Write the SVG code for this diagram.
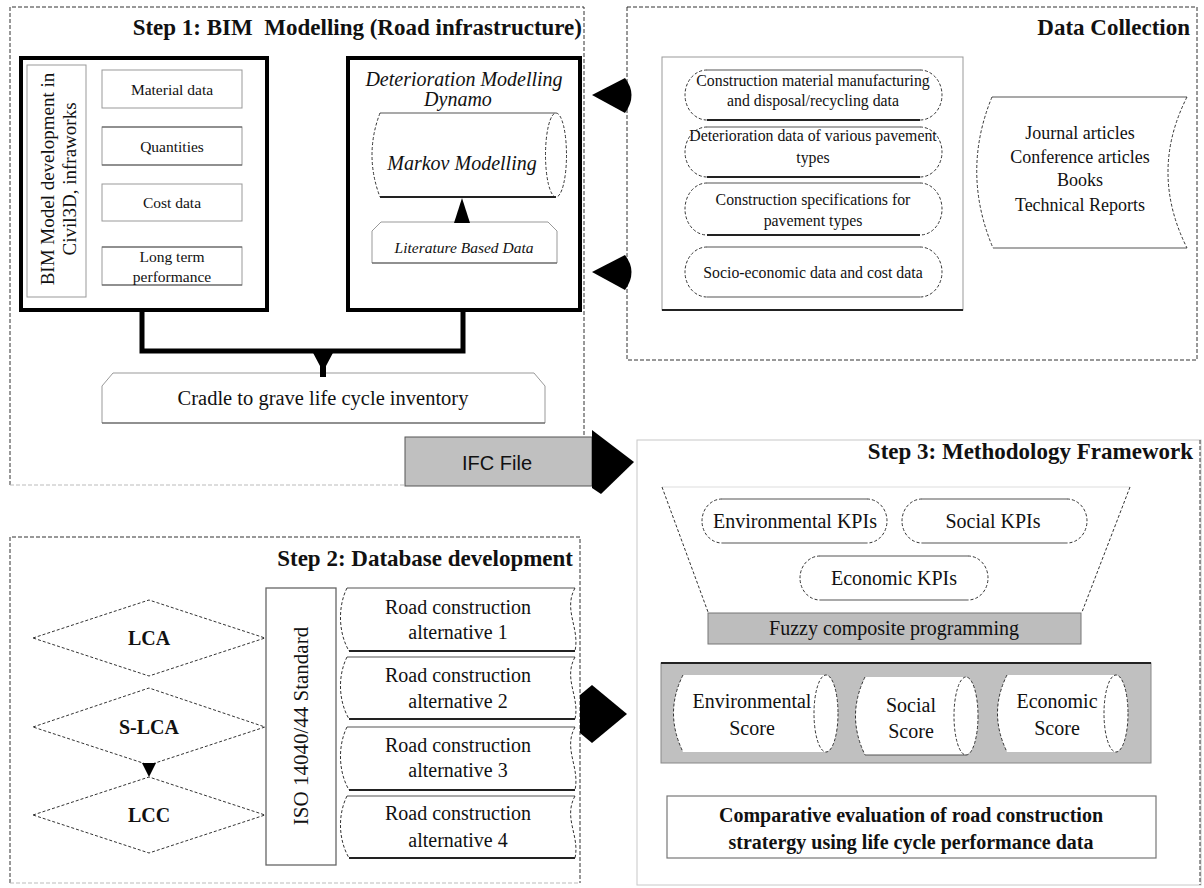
<svg xmlns="http://www.w3.org/2000/svg" width="1204" height="888" viewBox="0 0 1204 888">
<defs>
<style>
.t{font-family:"Liberation Serif","Times New Roman",serif;fill:#111;text-anchor:middle}
.title{font-size:23px;font-weight:bold;text-anchor:end}
.b{font-weight:bold}
.i{font-style:italic}
.frame{fill:none;stroke:#333;stroke-width:1;stroke-dasharray:4 2}
.frame-light{fill:none;stroke:#bbb;stroke-width:1;stroke-dasharray:4 2}
.faint{fill:none;stroke:#c8c8c8;stroke-width:1}
.thick{fill:#fff;stroke:#000;stroke-width:4}
.box{fill:#fff;stroke:#999;stroke-width:1}
.edge{fill:none;stroke:#555;stroke-width:1.2}
.edge-dark{fill:none;stroke:#222;stroke-width:1.8}
.dash{fill:none;stroke:#333;stroke-width:1;stroke-dasharray:3 2}
.wfill{fill:#fff;stroke:none}
.head{fill:#000;stroke:none}
.sans{font-family:"Liberation Sans",Arial,sans-serif}
</style>
</defs>
<rect width="1204" height="888" fill="#fff"/>

<!-- Step 1 frame: dark dashed sides, light dashed bottom -->
<g id="step1">
  <path class="frame" d="M10,485 V7 H584 V485"/>
  <path class="frame-light" d="M10,485 H584"/>
  <text class="t title" x="582" y="35" xml:space="preserve">Step 1: BIM  Modelling (Road infrastructure)</text>
</g>

<g id="bim-model">
  <rect class="thick" x="21" y="58" width="246" height="252"/>
  <rect class="box" x="27" y="65" width="59" height="232"/>
  <text class="t" font-size="19" transform="translate(54,179) rotate(-90)">BIM Model development in</text>
  <text class="t" font-size="19" transform="translate(76,179) rotate(-90)">Civil3D, infraworks</text>
</g>
<g id="material-data">
  <rect class="box" x="102" y="70" width="140" height="38"/>
  <text class="t" font-size="15.5" x="172" y="95">Material data</text>
</g>
<g id="quantities">
  <rect class="box" x="102" y="127" width="140" height="38"/>
  <path class="edge" d="M102,127 H242 M102,165 H242"/>
  <text class="t" font-size="15.5" x="172" y="152">Quantities</text>
</g>
<g id="cost-data">
  <rect class="box" x="102" y="184" width="140" height="37"/>
  <text class="t" font-size="15.5" x="172" y="208">Cost data</text>
</g>
<g id="long-term">
  <rect class="box" x="102" y="247" width="140" height="38"/>
  <path class="edge" d="M102,247 H242 M102,285 H242"/>
  <text class="t" font-size="15.5" x="172" y="262">Long term</text>
  <text class="t" font-size="15.5" x="172" y="282">performance</text>
</g>

<g id="deterioration-model">
  <rect class="thick" x="348" y="58" width="232" height="252"/>
  <text class="t i" font-size="20" x="464" y="86">Deterioration Modelling</text>
  <text class="t i" font-size="20" x="458" y="106">Dynamo</text>
</g>
<g id="markov">
  <path class="wfill" d="M380,113 H556 A10.5,42 0 0 1 556,197 H380 Q364,155 380,113 Z"/>
  <path class="edge" d="M380,113 H556"/>
  <path class="edge-dark" d="M380,197 H556"/>
  <path class="dash" d="M380,113 Q364,155 380,197"/>
  <ellipse class="dash" cx="556" cy="155" rx="10.5" ry="42"/>
  <text class="t i" font-size="20" x="462" y="170">Markov Modelling</text>
</g>
<g id="literature">
  <path class="box" d="M372,263 V231 L381,222 H548 L557,231 V263 Z"/>
  <path class="edge" d="M372,263 H557"/>
  <text class="t i" font-size="15.5" x="464" y="253">Literature Based Data</text>
</g>
<g id="inventory">
  <path class="box" d="M102,423 V386 L113,373 H534 L545,386 V423 Z"/>
  <path class="edge" d="M102,423 H545"/>
  <text class="t" font-size="20.5" x="323" y="405">Cradle to grave life cycle inventory</text>
</g>
<g id="ifc-file">
  <rect x="405" y="437" width="187" height="49" fill="#c0c0c0" stroke="#555" stroke-width="1"/>
  <text class="t sans" font-size="20" x="497" y="470">IFC File</text>
</g>

<!-- Data collection -->
<g id="data-collection">
  <rect class="frame" x="627" y="7" width="570" height="353"/>
  <text class="t title" x="1190" y="35">Data Collection</text>
  <rect class="box" x="662" y="57" width="301" height="253"/>
  <path class="edge-dark" d="M662,310 H963"/>
</g>
<g id="material-manufacturing-data">
  <path class="wfill" d="M707,70 H920 A22,25 0 0 1 920,120 H707 A22,25 0 0 1 707,70 Z"/>
  <path class="edge" d="M707,70 H920"/><path class="edge-dark" d="M707,120 H920"/>
  <path class="dash" d="M707,70 A22,25 0 0 0 707,120 M920,70 A22,25 0 0 1 920,120"/>
  <text class="t" font-size="15.8" x="813" y="86">Construction material manufacturing</text>
  <text class="t" font-size="15.8" x="813" y="106">and disposal/recycling data</text>
</g>
<g id="deterioration-data">
  <path class="wfill" d="M707,127 H920 A22,25 0 0 1 920,177 H707 A22,25 0 0 1 707,127 Z"/>
  <path class="edge" d="M707,127 H920"/><path class="edge-dark" d="M707,177 H920"/>
  <path class="dash" d="M707,127 A22,25 0 0 0 707,177 M920,127 A22,25 0 0 1 920,177"/>
  <text class="t" font-size="15.8" x="813" y="141">Deterioration data of various pavement</text>
  <text class="t" font-size="15.8" x="813" y="163">types</text>
</g>
<g id="specifications">
  <path class="wfill" d="M707,183 H920 A22,26 0 0 1 920,235 H707 A22,26 0 0 1 707,183 Z"/>
  <path class="edge" d="M707,183 H920"/><path class="edge-dark" d="M707,235 H920"/>
  <path class="dash" d="M707,183 A22,26 0 0 0 707,235 M920,183 A22,26 0 0 1 920,235"/>
  <text class="t" font-size="15.8" x="813" y="205">Construction specifications for</text>
  <text class="t" font-size="15.8" x="813" y="226">pavement types</text>
</g>
<g id="socio-economic">
  <path class="wfill" d="M707,247 H920 A22,25 0 0 1 920,297 H707 A22,25 0 0 1 707,247 Z"/>
  <path class="edge" d="M707,247 H920"/><path class="edge" d="M707,297 H920"/>
  <path class="dash" d="M707,247 A22,25 0 0 0 707,297 M920,247 A22,25 0 0 1 920,297"/>
  <text class="t" font-size="15.8" x="813" y="278">Socio-economic data and cost data</text>
</g>
<g id="sources">
  <path class="wfill" d="M992,97 H1187 Q1149,172 1187,248 H993 Q961,172 992,97 Z"/>
  <path class="edge" d="M992,97 H1187 M993,248 H1187"/>
  <path class="dash" d="M992,97 Q961,172 993,248 M1187,97 Q1149,172 1187,248"/>
  <text class="t" font-size="18" x="1080" y="139">Journal articles</text>
  <text class="t" font-size="18" x="1080" y="163">Conference articles</text>
  <text class="t" font-size="18" x="1080" y="186">Books</text>
  <text class="t" font-size="18" x="1080" y="211">Technical Reports</text>
</g>

<!-- Step 2 -->
<g id="step2">
  <path class="frame" d="M10,883 V537 H580 V883"/>
  <path class="frame-light" d="M10,883 H580"/>
  <text class="t title" x="573" y="566">Step 2: Database development</text>
</g>
<g id="lca">
  <path class="dash" fill="#fff" d="M33,638 L149,600 L265,638 L149,676 Z"/>
  <text class="t b" font-size="20" x="149" y="645">LCA</text>
</g>
<g id="s-lca">
  <path class="dash" fill="#fff" d="M33,727 L149,688 L265,727 L149,765 Z"/>
  <text class="t b" font-size="20" x="149" y="734">S-LCA</text>
</g>
<g id="lcc">
  <path class="dash" fill="#fff" d="M33,815 L149,777 L265,815 L149,853 Z"/>
  <text class="t b" font-size="20" x="149" y="822">LCC</text>
</g>
<g id="iso-standard">
  <rect x="266" y="588" width="70" height="277" fill="#fff" stroke="#666" stroke-width="1.3"/>
  <text class="t" font-size="21" transform="translate(308,726) rotate(-90)">ISO 14040/44 Standard</text>
</g>
<g id="alternative-1">
  <path class="wfill" d="M347,588 H575 C563,610 580,628 575,651 H349 C338,632 338,606 347,588 Z"/>
  <path class="edge" d="M347,588 H575"/><path class="edge-dark" d="M349,651 H575"/>
  <path class="dash" d="M347,588 C338,606 338,632 349,651 M575,588 C563,610 580,628 575,651"/>
  <text class="t" font-size="20" x="458" y="614">Road construction</text>
  <text class="t" font-size="20" x="458" y="639">alternative 1</text>
</g>
<g id="alternative-2">
  <path class="wfill" d="M347,657 H575 C563,679 580,697 575,719 H349 C338,700 338,675 347,657 Z"/>
  <path class="edge" d="M347,657 H575"/><path class="edge-dark" d="M349,719 H575"/>
  <path class="dash" d="M347,657 C338,675 338,700 349,719 M575,657 C563,679 580,697 575,719"/>
  <text class="t" font-size="20" x="458" y="682">Road construction</text>
  <text class="t" font-size="20" x="458" y="708">alternative 2</text>
</g>
<g id="alternative-3">
  <path class="wfill" d="M347,727 H575 C563,749 580,767 575,790 H349 C338,771 338,745 347,727 Z"/>
  <path class="edge" d="M347,727 H575"/><path class="edge-dark" d="M349,790 H575"/>
  <path class="dash" d="M347,727 C338,745 338,771 349,790 M575,727 C563,749 580,767 575,790"/>
  <text class="t" font-size="20" x="458" y="752">Road construction</text>
  <text class="t" font-size="20" x="458" y="777">alternative 3</text>
</g>
<g id="alternative-4">
  <path class="wfill" d="M347,796 H575 C563,818 580,836 575,858 H349 C338,839 338,814 347,796 Z"/>
  <path class="edge" d="M347,796 H575"/><path class="edge-dark" d="M349,858 H575"/>
  <path class="dash" d="M347,796 C338,814 338,839 349,858 M575,796 C563,818 580,836 575,858"/>
  <text class="t" font-size="20" x="458" y="820">Road construction</text>
  <text class="t" font-size="20" x="458" y="847">alternative 4</text>
</g>

<!-- Step 3 -->
<g id="step3">
  <rect class="faint" x="637" y="440" width="564" height="445"/>
  <path class="frame" d="M1200,440 V885"/>
  <text class="t title" x="1193" y="459">Step 3: Methodology Framework</text>
</g>
<g id="kpi-funnel">
  <path d="M662,487 H1130" stroke="#ddd" stroke-width="1" fill="none"/>
  <path class="dash" d="M662,487 L708,612 M1130,487 L1082,612"/>
</g>
<g id="environmental-kpis">
  <path class="wfill" d="M722,499 H867 A20,22 0 0 1 867,543 H722 A20,22 0 0 1 722,499 Z"/>
  <path class="edge" d="M722,499 H867 M722,543 H867"/>
  <path class="dash" d="M722,499 A20,22 0 0 0 722,543 M867,499 A20,22 0 0 1 867,543"/>
  <text class="t" font-size="20" x="795" y="528">Environmental KPIs</text>
</g>
<g id="social-kpis">
  <path class="wfill" d="M922,499 H1067 A20,22 0 0 1 1067,543 H922 A20,22 0 0 1 922,499 Z"/>
  <path class="edge" d="M922,499 H1067 M922,543 H1067"/>
  <path class="dash" d="M922,499 A20,22 0 0 0 922,543 M1067,499 A20,22 0 0 1 1067,543"/>
  <text class="t" font-size="20" x="993" y="528">Social KPIs</text>
</g>
<g id="economic-kpis">
  <path class="wfill" d="M820,556 H968 A20,22 0 0 1 968,600 H820 A20,22 0 0 1 820,556 Z"/>
  <path class="edge" d="M820,556 H968 M820,600 H968"/>
  <path class="dash" d="M820,556 A20,22 0 0 0 820,600 M968,556 A20,22 0 0 1 968,600"/>
  <text class="t" font-size="20" x="894" y="585">Economic KPIs</text>
</g>
<g id="fuzzy-programming">
  <rect x="708" y="613" width="373" height="31" fill="#bdbdbd" stroke="#777" stroke-width="1"/>
  <text class="t" font-size="20" x="894" y="635">Fuzzy composite programming</text>
</g>
<g id="scores">
  <rect x="661" y="663" width="490" height="100" fill="#c0c0c0" stroke="#888" stroke-width="1"/>
  <path d="M661,663 H1151" stroke="#222" stroke-width="2" fill="none"/>
</g>
<g id="environmental-score">
  <path class="wfill" d="M683,675 H826 A12,38.5 0 0 1 826,752 H683 Q664,713 683,675 Z"/>
  <path class="dash" d="M683,675 Q664,713 683,752"/>
  <ellipse class="dash" cx="826" cy="713.5" rx="12" ry="38.5"/>
  <text class="t" font-size="20" x="752" y="708">Environmental</text>
  <text class="t" font-size="20" x="752" y="735">Score</text>
</g>
<g id="social-score">
  <path class="wfill" d="M865,677 H966 A12,39 0 0 1 966,755 H865 Q846,716 865,677 Z"/>
  <path class="edge" d="M865,755 H966"/>
  <path class="dash" d="M865,677 Q846,716 865,755"/>
  <ellipse class="dash" cx="966" cy="716" rx="12" ry="39"/>
  <text class="t" font-size="20" x="911" y="712">Social</text>
  <text class="t" font-size="20" x="911" y="738">Score</text>
</g>
<g id="economic-score">
  <path class="wfill" d="M1007,675 H1116 A12,38.5 0 0 1 1116,752 H1007 Q988,713 1007,675 Z"/>
  <path class="dash" d="M1007,675 Q988,713 1007,752"/>
  <ellipse class="dash" cx="1116" cy="713.5" rx="12" ry="38.5"/>
  <text class="t" font-size="20" x="1057" y="708">Economic</text>
  <text class="t" font-size="20" x="1057" y="735">Score</text>
</g>
<g id="comparative-evaluation">
  <rect x="667" y="796" width="489" height="62" fill="#fff" stroke="#777" stroke-width="1.2"/>
  <text class="t b" font-size="20" x="911" y="822">Comparative evaluation of road construction</text>
  <text class="t b" font-size="20" x="911" y="849">stratergy using life cycle performance data</text>
</g>

<!-- connectors -->
<g id="connectors">
  <path d="M142,310 V351 H463 V310" fill="none" stroke="#000" stroke-width="5"/>
  <path class="head" d="M311,349 H335 L326,366 V377 H320 V366 Z"/>
  <path class="head" d="M454,223 H470 L462,198 Z"/>
  <path class="head" d="M592,95 L625,78 Q638,95 625,113 Z"/>
  <path class="head" d="M592,272 L625,255 Q638,272 625,290 Z"/>
  <path class="head" d="M592,430 L634,462 L601,494 L592,488 Z"/>
  <path class="head" d="M580,695 L592,685 L627,714 L592,743 L580,733 Z"/>
  <path class="head" d="M142,763 H156 L149,777 Z"/>
</g>
</svg>
